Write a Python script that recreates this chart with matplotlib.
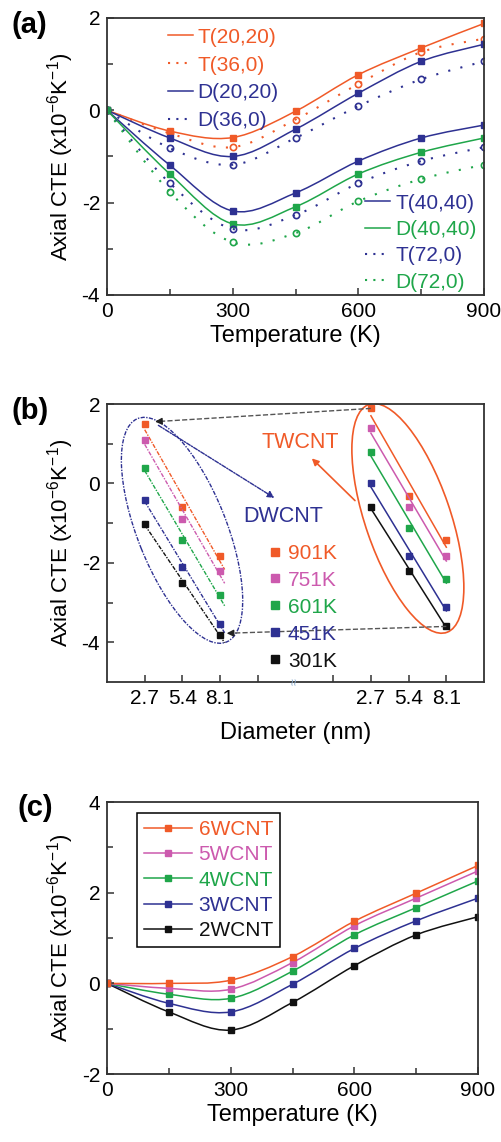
import numpy as np
import matplotlib
matplotlib.use("Agg")
import matplotlib.pyplot as plt
from matplotlib.path import Path
from matplotlib.patches import PathPatch, Ellipse
from matplotlib.lines import Line2D

plt.rcParams['font.family'] = ['Liberation Sans', 'DejaVu Sans']
plt.rcParams['mathtext.fontset'] = 'custom'
plt.rcParams['mathtext.rm'] = 'Liberation Sans'
plt.rcParams['mathtext.it'] = 'Liberation Sans:italic'
plt.rcParams['axes.unicode_minus'] = False

RED = '#f05a28'
BLUE = '#2e3192'
GREEN = '#1fa64a'
MAGENTA = '#cc5aae'
BLACK = '#111111'

# ---- panel (a) data
temp = [0, 150, 300, 450, 600, 750, 900]
t2020 = [0, -0.45, -0.59, -0.02, 0.77, 1.35, 1.88]
t360 = [0, -0.50, -0.80, -0.20, 0.57, 1.26, 1.55]
d2020 = [0, -0.60, -1.00, -0.41, 0.37, 1.06, 1.43]
d360 = [0, -0.82, -1.18, -0.60, 0.09, 0.67, 1.06]
t4040 = [0, -1.19, -2.18, -1.79, -1.10, -0.60, -0.32]
d4040 = [0, -1.38, -2.46, -2.09, -1.38, -0.91, -0.60]
t720 = [0, -1.58, -2.57, -2.27, -1.58, -1.10, -0.80]
d720 = [0, -1.77, -2.86, -2.66, -1.97, -1.49, -1.18]

# ---- panel (b) data
diam_labels = ['2.7', '5.4', '8.1']
temps_b = ['901K', '751K', '601K', '451K', '301K']
dw_vals = [[1.5, -0.6, -1.82],
           [1.1, -0.9, -2.2],
           [0.39, -1.42, -2.82],
           [-0.41, -2.1, -3.53],
           [-1.01, -2.51, -3.81]]
tw_vals = [[1.89, -0.32, -1.42],
           [1.39, -0.59, -1.83],
           [0.79, -1.11, -2.41],
           [0.0, -1.83, -3.12],
           [-0.6, -2.2, -3.6]]

# ---- panel (c) data
wcnt_names = ['6WCNT', '5WCNT', '4WCNT', '3WCNT', '2WCNT']
wcnt_vals = [[0, 0.0, 0.07, 0.59, 1.37, 1.99, 2.60],
             [0, -0.11, -0.13, 0.46, 1.27, 1.88, 2.48],
             [0, -0.24, -0.33, 0.27, 1.07, 1.67, 2.26],
             [0, -0.44, -0.63, -0.02, 0.77, 1.38, 1.88],
             [0, -0.63, -1.03, -0.42, 0.39, 1.07, 1.47]]

colors_b = [RED, MAGENTA, GREEN, BLUE, BLACK]


def smooth_path(x, y):
    pts = np.column_stack([x, y]).astype(float)
    ext = np.vstack([pts[0], pts, pts[-1]])
    verts = [pts[0]]
    codes = [Path.MOVETO]
    for i in range(len(pts) - 1):
        p0, p1, p2, p3 = ext[i], ext[i + 1], ext[i + 2], ext[i + 3]
        verts += [p1 + (p2 - p0) / 6, p2 - (p3 - p1) / 6, p2]
        codes += [Path.CURVE4] * 3
    return Path(verts, codes)


def style_axes(ax):
    for s in ax.spines.values():
        s.set_linewidth(1.3)
        s.set_color('#333333')
    ax.tick_params(which='both', direction='in', top=False, right=False,
                   labelsize=15, color='#333333', pad=5)
    ax.tick_params(which='major', length=5, width=1.1)
    ax.tick_params(which='minor', length=4, width=1.1)


ylab = 'Axial CTE (x10$^{-6}$K$^{-1}$)'

fig = plt.figure(figsize=(5.01, 11.42), dpi=100)

# ================= (a)
ax1 = fig.add_axes([0.2136, 0.7417, 0.7525, 0.2426])
series_a = [
    (t2020, RED, '-', 's'), (t360, RED, ':', 'o'),
    (d2020, BLUE, '-', 's'), (d360, BLUE, ':', 'o'),
    (t4040, BLUE, '-', 's'), (d4040, GREEN, '-', 's'),
    (t720, BLUE, ':', 'o'), (d720, GREEN, ':', 'o'),
]
for vals, c, ls, mk in series_a:
    lsx = (0, (1, 5)) if ls == ':' else '-'
    lw = 1.5 if ls == ':' else 1.1
    ax1.add_patch(PathPatch(smooth_path(temp, vals), fill=False,
                            edgecolor=c, lw=lw, linestyle=lsx))
    if mk == 's':
        ax1.plot(temp, vals, ls='none', marker='s', ms=5, color=c)
    else:
        ax1.plot(temp, vals, ls='none', marker='o', ms=4.5, mfc='none',
                 mec=c, mew=1.2)
ax1.set_xlim(0, 900)
ax1.set_ylim(-4, 2)
ax1.set_xticks([0, 300, 600, 900])
ax1.set_xticks([150, 450, 750], minor=True)
ax1.set_yticks([-4, -2, 0, 2])
ax1.set_yticks([-3, -1, 1], minor=True)
style_axes(ax1)
ax1.set_xlabel('Temperature (K)', fontsize=17, labelpad=3)
ax1.set_ylabel(ylab, fontsize=16, labelpad=4)

h_up = [Line2D([], [], color=RED, lw=1.1),
        Line2D([], [], color=RED, lw=1.5, ls=(0, (1, 3))),
        Line2D([], [], color=BLUE, lw=1.1),
        Line2D([], [], color=BLUE, lw=1.5, ls=(0, (1, 3)))]
leg1 = ax1.legend(h_up, ['T(20,20)', 'T(36,0)', 'D(20,20)', 'D(36,0)'],
                  loc='upper left', bbox_to_anchor=(0.155, 0.972), frameon=False,
                  fontsize=15, handlelength=1.2, handletextpad=0.25,
                  labelspacing=0.42, borderpad=0.1, borderaxespad=0,
                  labelcolor=[RED, RED, BLUE, BLUE])
ax1.add_artist(leg1)
h_dn = [Line2D([], [], color=BLUE, lw=1.1),
        Line2D([], [], color=GREEN, lw=1.1),
        Line2D([], [], color=BLUE, lw=1.5, ls=(0, (1, 3))),
        Line2D([], [], color=GREEN, lw=1.5, ls=(0, (1, 3)))]
ax1.legend(h_dn, ['T(40,40)', 'D(40,40)', 'T(72,0)', 'D(72,0)'],
           loc='lower left', bbox_to_anchor=(0.68, 0.005), frameon=False,
           fontsize=15, handlelength=1.2, handletextpad=0.25,
           labelspacing=0.35, borderpad=0.1, borderaxespad=0,
           labelcolor=[BLUE, GREEN, BLUE, GREEN])
fig.text(0.022, 0.99, '(a)', fontsize=21, fontweight='bold', va='top')

# ================= (b)
ax2 = fig.add_axes([0.2136, 0.4028, 0.7525, 0.2434])
x_dw = np.array([1, 2, 3])
x_tw = np.array([7, 8, 9])
for vals, c in zip(dw_vals, colors_b):
    k, b = np.polyfit(x_dw, vals, 1)
    xs = np.array([1.0, 3.12])
    ax2.plot(xs, k * xs + b, color=c, lw=1.0, ls=(0, (3, 1, 1, 1)))
    ax2.plot(x_dw, vals, ls='none', marker='s', ms=5, color=c)
for vals, c in zip(tw_vals, colors_b):
    k, b = np.polyfit(x_tw, vals, 1)
    xs = np.array([7.0, 9.0])
    ax2.plot(xs, k * xs + b, color=c, lw=1.1)
    ax2.plot(x_tw, vals, ls='none', marker='s', ms=5, color=c)

ax2.add_patch(Ellipse((1.99, -1.18), 6.1, 2.35, angle=-67, fill=False,
                      edgecolor=BLUE, lw=1.0, ls=(0, (3, 1, 1, 1))))
ax2.add_patch(Ellipse((7.98, -0.88), 6.1, 2.25, angle=-70, fill=False,
                      edgecolor=RED, lw=1.2))

# gray dashed connectors
ax2.plot([7.0, 1.35], [1.89, 1.56], color='#555555', lw=1.0, ls='--')
ax2.annotate('', xy=(1.2, 1.555), xytext=(1.45, 1.565),
             arrowprops=dict(arrowstyle='-|>', color='#222222', lw=1,
                             mutation_scale=10))
ax2.plot([9.0, 3.25], [-3.6, -3.77], color='#555555', lw=1.0, ls='--')
ax2.annotate('', xy=(3.1, -3.775), xytext=(3.35, -3.77),
             arrowprops=dict(arrowstyle='-|>', color='#222222', lw=1,
                             mutation_scale=10))
ax2.annotate('', xy=(4.5, -0.4), xytext=(1.3, 1.5),
             arrowprops=dict(arrowstyle='-|>', color=BLUE, lw=1.0,
                             ls=(0, (3, 1, 1, 1)), mutation_scale=10))
ax2.annotate('', xy=(5.38, 0.68), xytext=(6.63, -0.48),
             arrowprops=dict(arrowstyle='-|>', color=RED, lw=1.2,
                             mutation_scale=10))
ax2.text(5.12, 1.03, 'TWCNT', color=RED, fontsize=15.5, ha='center', va='center')
ax2.text(4.67, -0.83, 'DWCNT', color=BLUE, fontsize=15.5, ha='center', va='center')

hb = [Line2D([], [], ls='none', marker='s', ms=6, color=c) for c in colors_b]
ax2.legend(hb, temps_b, loc='upper left', bbox_to_anchor=(0.43, 0.497),
           frameon=False, fontsize=15, handlelength=0.6, handletextpad=0.3,
           labelspacing=0.38, borderpad=0, borderaxespad=0,
           labelcolor=colors_b)

ax2.set_xlim(0, 10)
ax2.set_ylim(-5, 2)
ax2.set_xticks([1, 2, 3, 4, 6, 7, 8, 9])
ax2.set_xticklabels(diam_labels + ['', ''] + diam_labels)
ax2.set_yticks([-4, -2, 0, 2])
ax2.set_yticks([-3, -1, 1], minor=True)
style_axes(ax2)
ax2.text(5, -5, '\u2248', color='#88aacc', fontsize=9, ha='center',
         va='center', rotation=90)
ax2.set_xlabel('Diameter (nm)', fontsize=17, labelpad=10)
ax2.set_ylabel(ylab, fontsize=16, labelpad=4)
fig.text(0.022, 0.652, '(b)', fontsize=21, fontweight='bold', va='top')

# ================= (c)
ax3 = fig.add_axes([0.2136, 0.0595, 0.7405, 0.2382])
colors_c = [RED, MAGENTA, GREEN, BLUE, BLACK]
hc = []
for vals, c in zip(wcnt_vals[::-1], colors_c[::-1]):
    ax3.add_patch(PathPatch(smooth_path(temp, vals), fill=False,
                            edgecolor=c, lw=1.1))
    ax3.plot(temp, vals, ls='none', marker='s', ms=5, color=c)
for c in colors_c:
    hc.append(Line2D([], [], color=c, lw=1.1, marker='s', ms=5))
leg3 = ax3.legend(hc, wcnt_names, loc='upper left', bbox_to_anchor=(0.081, 0.96),
                  fontsize=15, handlelength=2.3, handletextpad=0.3,
                  labelspacing=0.3, borderpad=0.35, borderaxespad=0,
                  fancybox=False, edgecolor='black', framealpha=1,
                  labelcolor=colors_c)
leg3.get_frame().set_linewidth(1.1)
ax3.set_xlim(0, 900)
ax3.set_ylim(-2, 4)
ax3.set_xticks([0, 300, 600, 900])
ax3.set_xticks([150, 450, 750], minor=True)
ax3.set_yticks([-2, 0, 2, 4])
ax3.set_yticks([-1, 1, 3], minor=True)
style_axes(ax3)
ax3.set_xlabel('Temperature (K)', fontsize=17, labelpad=3)
ax3.set_ylabel(ylab, fontsize=16, labelpad=4)
fig.text(0.035, 0.305, '(c)', fontsize=21, fontweight='bold', va='top')

fig.savefig('out.png', dpi=100)
